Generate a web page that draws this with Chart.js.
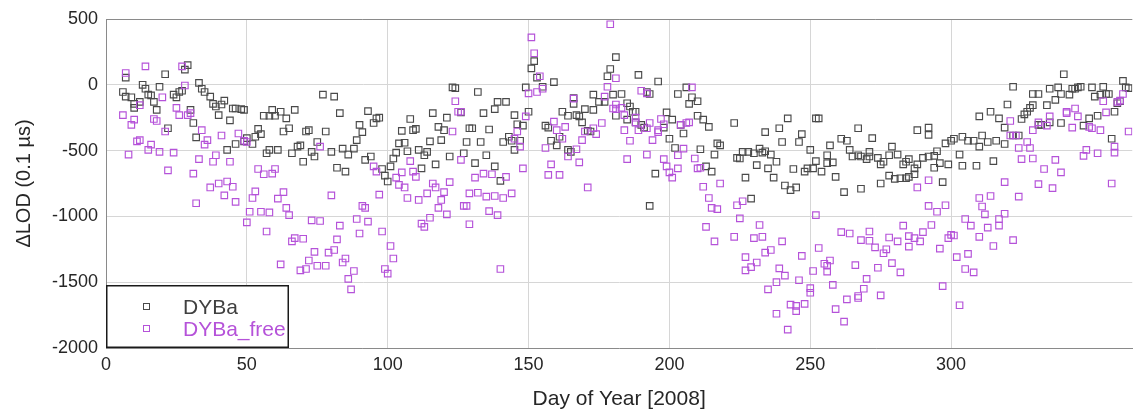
<!DOCTYPE html>
<html>
<head>
<meta charset="utf-8">
<title>LOD 2008</title>
<script src="https://cdn.jsdelivr.net/npm/chart.js@4.4.0/dist/chart.umd.min.js"></script>
<style>
  html, body { margin: 0; padding: 0; background: #fff; }
  #lodChart { display: block; }
</style>
</head>
<body>
<canvas id="lodChart" width="1138" height="415"></canvas>
<script>
// DYBa series: day of year and LOD (0.1 us)
const dybaDays = [
    6, 7, 7, 9, 10, 10, 12, 13, 14, 15,
    16, 17, 18, 19, 21, 22, 24, 25, 26, 27,
    28, 29, 30, 31, 32, 33, 34, 35, 37, 38,
    39, 40, 41, 42, 43, 44, 45, 46, 46, 48,
    49, 49, 50, 52, 53, 54, 55, 56, 57, 58,
    58, 59, 60, 61, 62, 63, 64, 65, 66, 67,
    68, 69, 70, 71, 72, 73, 74, 75, 77, 78,
    80, 81, 82, 83, 84, 85, 86, 88, 89, 90,
    91, 92, 93, 94, 95, 96, 97, 98, 99, 100,
    101, 102, 103, 104, 105, 106, 107, 108, 109, 110,
    111, 112, 113, 114, 115, 116, 117, 118, 119, 120,
    121, 122, 123, 124, 126, 127, 128, 129, 130, 131,
    132, 133, 134, 135, 136, 138, 138, 139, 140, 141,
    142, 143, 144, 145, 145, 146, 147, 148, 149, 150,
    151, 152, 153, 155, 156, 157, 158, 159, 160, 161,
    162, 164, 164, 165, 166, 166, 167, 168, 169, 170,
    171, 172, 173, 173, 175, 177, 178, 179, 180, 181,
    181, 183, 185, 185, 186, 187, 188, 188, 189, 190,
    191, 192, 193, 193, 195, 196, 198, 199, 200, 201,
    202, 203, 204, 205, 206, 207, 208, 210, 210, 211,
    212, 213, 214, 215, 216, 217, 218, 223, 224, 225,
    226, 227, 228, 229, 230, 231, 232, 233, 234, 234,
    235, 236, 237, 238, 239, 240, 241, 242, 243, 244,
    245, 246, 247, 248, 249, 250, 251, 252, 252, 253,
    254, 256, 256, 257, 258, 259, 261, 262, 263, 264,
    265, 267, 267, 268, 268, 270, 271, 271, 272, 274,
    275, 275, 276, 278, 278, 279, 280, 281, 282, 283,
    284, 284, 285, 285, 287, 287, 288, 288, 290, 292,
    292, 292, 294, 294, 295, 296, 297, 298, 299, 300,
    301, 303, 304, 304, 306, 308, 309, 310, 310, 311,
    313, 314, 315, 316, 317, 319, 319, 320, 322, 322,
    324, 325, 326, 327, 328, 329, 329, 331, 331, 332,
    334, 335, 335, 337, 338, 339, 339, 340, 342, 343,
    344, 345, 346, 347, 349, 350, 351, 352, 353, 354,
    355, 356, 357, 358, 359, 360, 361, 362, 363
];
const dybaValues = [
    -55, 55, -90, -95, -175, -145, -130, 0, -30, -75,
    -80, -130, -190, -15, 80, -330, -75, -95, -55, -45,
    115, 150, -190, -290, -400, 15, -30, -55, -90, -145,
    -165, -230, -150, -120, -495, -270, -180, -180, -450, -185,
    -190, -430, -405, -450, -395, -335, -375, -235, -520, -235,
    -495, -190, -235, -495, -205, -355, -255, -330, -520, -190,
    -470, -460, -585, -355, -345, -510, -545, -435, -75, -355,
    -510, -90, -630, -215, -485, -660, -530, -485, -420, -305,
    -360, -570, -200, -545, -290, -255, -250, -640, -690, -735,
    -620, -560, -515, -445, -350, -440, -505, -260, -345, -335,
    -495, -635, -535, -510, -430, -215, -605, -320, -420, -345,
    -250, -545, -20, -25, -210, -520, -435, -330, -330, -595,
    -55, -435, -215, -535, -340, -185, -620, -130, -730, -435,
    -130, -395, -425, -495, -230, -300, -425, -310, -20, -205,
    125, 180, 55, -15, -310, -325, -425, 20, -460, -395,
    -205, -235, -495, -510, -145, -100, -230, -240, -285, -185,
    -350, -355, -190, -75, -130, -130, 65, 120, -75, 210,
    -235, -70, -140, -265, -165, -205, -205, -285, 75, -305,
    -325, -55, -70, -920, -675, 25, -325, -210, -410, -265,
    -480, -70, -305, -370, -20, -145, -95, -235, -125, -490,
    -265, -620, -320, -660, -530, -445, -460, -290, -555, -560,
    -510, -705, -510, -865, -520, -610, -485, -515, -505, -360,
    -635, -530, -705, -585, -330, -435, -765, -255, -800, -640,
    -780, -435, -375, -660, -635, -495, -635, -580, -255, -255,
    -660, -595, -535, -460, -590, -700, -410, -815, -425, -495,
    -545, -535, -330, -790, -545, -565, -510, -545, -405, -555,
    -605, -750, -585, -535, -690, -470, -715, -530, -710, -605,
    -710, -585, -565, -700, -680, -635, -605, -345, -555, -545,
    -325, -380, -540, -630, -505, -595, -740, -445, -605, -425,
    -410, -530, -395, -615, -425, -425, -615, -470, -240, -385,
    -435, -205, -580, -425, -255, -450, -325, -150, -15, -385,
    -385, -260, -225, -205, -175, -155, -70, -70, -305, -305,
    -155, -30, -285, -115, -20, -290, -70, 80, -75, -30,
    -30, -20, -15, -310, -255, -20, -90, -235, -75, -15,
    -70, -70, -410, -205, -140, -125, 30, -20, -25
];

// DYBa_free series
const freeDays = [
    6, 7, 8, 9, 10, 11, 12, 12, 14, 15,
    16, 17, 18, 19, 20, 21, 22, 24, 25, 26,
    27, 28, 29, 30, 31, 32, 33, 34, 35, 36,
    37, 38, 39, 40, 41, 42, 43, 44, 45, 46,
    47, 49, 50, 50, 51, 52, 53, 54, 55, 56,
    57, 58, 59, 60, 61, 62, 63, 64, 65, 66,
    67, 69, 70, 71, 72, 73, 74, 75, 76, 76,
    78, 79, 80, 81, 82, 83, 84, 85, 86, 87,
    88, 89, 90, 91, 92, 93, 95, 96, 97, 98,
    99, 100, 101, 102, 103, 104, 105, 106, 107, 108,
    109, 110, 111, 112, 113, 114, 115, 116, 117, 118,
    119, 120, 121, 122, 123, 124, 125, 126, 126, 127,
    128, 129, 129, 131, 132, 134, 135, 136, 137, 138,
    139, 140, 141, 142, 144, 145, 146, 147, 148, 149,
    150, 151, 152, 153, 154, 155, 156, 157, 158, 159,
    160, 161, 162, 163, 164, 166, 167, 168, 169, 170,
    171, 173, 174, 176, 177, 178, 179, 180, 181, 181,
    181, 183, 184, 184, 185, 186, 188, 188, 189, 190,
    192, 192, 192, 193, 194, 196, 196, 197, 198, 198,
    199, 200, 201, 203, 203, 204, 205, 206, 207, 208,
    209, 210, 211, 212, 213, 214, 215, 216, 217, 218,
    223, 224, 225, 226, 227, 227, 229, 230, 231, 232,
    233, 234, 235, 236, 238, 238, 239, 240, 241, 242,
    243, 245, 245, 246, 247, 248, 250, 250, 251, 252,
    253, 255, 256, 256, 257, 258, 259, 261, 262, 263,
    264, 266, 267, 267, 268, 269, 270, 271, 271, 273,
    274, 275, 276, 277, 278, 279, 281, 282, 283, 285,
    285, 287, 288, 289, 290, 292, 292, 293, 295, 296,
    297, 298, 299, 300, 301, 302, 303, 305, 305, 306,
    307, 308, 310, 310, 311, 312, 313, 314, 315, 317,
    317, 319, 319, 321, 321, 322, 323, 324, 324, 325,
    327, 328, 329, 329, 331, 331, 333, 334, 335, 336,
    337, 339, 341, 341, 343, 344, 345, 347, 348, 349,
    350, 352, 353, 354, 355, 357, 358, 358, 359, 360,
    361, 363
];
const freeValues = [
    -230, 90, -530, -305, -265, -430, -155, -420, 140, -495,
    -455, -260, -275, -510, -95, -355, -650, -515, -175, -230,
    140, -5, -230, -215, -675, -900, -565, -345, -455, -420,
    -780, -585, -535, -750, -385, -840, -735, -585, -775, -890,
    -370, -425, -435, -1045, -965, -860, -810, -640, -965, -680,
    -1115, -970, -675, -640, -865, -1365, -815, -935, -990, -1190,
    -1165, -1410, -1170, -1400, -1335, -1030, -1270, -1375, -1035, -470,
    -1375, -1275, -840, -1255, -1175, -1070, -1350, -1320, -1475, -1555,
    -1415, -1020, -1130, -920, -935, -1040, -620, -660, -835, -1115,
    -1400, -1435, -1225, -1320, -705, -760, -665, -780, -860, -580,
    -660, -700, -875, -1055, -1080, -825, -1010, -750, -780, -935,
    -875, -815, -985, -740, -355, -125, -205, -205, -570, -920,
    -920, -825, -1060, -705, -820, -675, -850, -960, -680, -845,
    -990, -1400, -860, -700, -825, -410, -355, -470, -635, -240,
    -65, 360, 240, -55, 65, -30, -480, -685, -605, -280,
    -345, -685, -410, -320, -545, -105, -490, -590, -420, -355,
    -780, -330, -375, -290, -90, -15, 460, -180, 50, -150,
    -185, -175, -230, -345, -565, -425, -250, -285, -345, -45,
    -65, -330, -530, -290, -420, -360, -345, -260, -300, -565,
    -620, -665, -705, -635, -535, -305, -485, -290, -285, -20,
    -560, -635, -630, -775, -1080, -860, -935, -1190, -945, -750,
    -1155, -915, -1015, -885, -1310, -1410, -1385, -1165, -1350, -1065,
    -1155, -1275, -1555, -1255, -1500, -1740, -1395, -1190, -1450, -1860,
    -1670, -1720, -1680, -1485, -1300, -1665, -1545, -1580, -1415, -990,
    -1240, -1360, -1375, -1420, -1335, -1520, -1705, -1120, -1800, -1630,
    -1130, -1370, -1605, -1620, -1180, -1550, -1475, -1115, -1185, -1235,
    -1390, -1600, -1280, -1250, -1160, -1355, -1190, -1425, -1070, -1230,
    -1150, -1165, -780, -1190, -1120, -920, -725, -1065, -965, -1245,
    -1530, -915, -1165, -1140, -1145, -1310, -1675, -1400, -1020, -1285,
    -1070, -1425, -1155, -860, -925, -985, -1085, -845, -1225, -1020,
    -1070, -980, -740, -385, -275, -1180, -385, -850, -480, -565,
    -435, -480, -560, -345, -285, -755, -640, -310, -240, -785,
    -570, -665, -205, -215, -325, -180, -240, -540, -495, -320,
    -330, -520, -345, -125, -210, -750, -515, -470, -130, -120,
    -70, -355
];

const seriesNames = ['DYBa', 'DYBa_free'];
const seriesColors = ['#4a4a4a', '#b552d9'];
const xTickStep = 50;
const yTickStep = 500;

function toPoints(days, values) {
    return days.map(function (d, i) {
        return { x: d, y: values[i] };
    });
}

const fontFamily = '"Liberation Sans", Arial, Helvetica, sans-serif';
const textColor = '#262626';

// legend box drawn inside the lower-left corner of the plot
const boxLegend = {
    id: 'boxLegend',
    afterDraw(chart) {
        const ctx = chart.ctx;
        const area = chart.chartArea;
        const left = area.left;
        const bottom = area.bottom;
        const w = 183, h = 63;
        ctx.save();
        ctx.fillStyle = '#fff';
        ctx.fillRect(left, bottom - h, w, h);
        ctx.strokeStyle = '#1a1a1a';
        ctx.lineWidth = 1.5;
        ctx.strokeRect(left + 0.75, bottom - h + 0.75, w - 1.5, h - 1.5);
        ctx.font = '21px ' + fontFamily;
        ctx.textBaseline = 'middle';
        seriesNames.forEach(function (name, i) {
            const y = bottom - h + 22 + i * 22;
            ctx.strokeStyle = seriesColors[i];
            ctx.lineWidth = 1;
            ctx.strokeRect(left + 37.5, y - 3.5, 6, 6);
            ctx.fillStyle = i === 0 ? '#404040' : seriesColors[1];
            ctx.fillText(name, left + 77, y + 1);
        });
        ctx.restore();
    }
};

// frame line along the top of the plot
const topFrame = {
    id: 'topFrame',
    afterDatasetsDraw(chart) {
        const ctx = chart.ctx;
        const a = chart.chartArea;
        ctx.save();
        ctx.strokeStyle = '#8a8a8a';
        ctx.lineWidth = 1;
        ctx.beginPath();
        ctx.moveTo(a.left, a.top + 0.5);
        ctx.lineTo(a.right, a.top + 0.5);
        ctx.stroke();
        ctx.restore();
    }
};

window.onload = function () {
    const ctx = document.getElementById('lodChart');
    const myChart = new Chart(ctx, {
        type: 'scatter',
        data: {
            datasets: [{
                label: seriesNames[0],
                data: toPoints(dybaDays, dybaValues),
                borderColor: seriesColors[0],
                backgroundColor: 'rgba(0,0,0,0)',
                pointStyle: 'rect',
                pointRadius: 4.6,
                borderWidth: 1.15,
                order: 2
            }, {
                label: seriesNames[1],
                data: toPoints(freeDays, freeValues),
                borderColor: seriesColors[1],
                backgroundColor: 'rgba(0,0,0,0)',
                pointStyle: 'rect',
                pointRadius: 4.6,
                borderWidth: 1.15,
                order: 1
            }]
        },
        options: {
            responsive: false,
            animation: false,
            devicePixelRatio: 1,
            layout: { padding: { top: 19, right: 0, left: 0, bottom: 0 } },
            plugins: {
                legend: { display: false },
                tooltip: { enabled: false }
            },
            scales: {
                x: {
                    type: 'linear',
                    min: 0,
                    max: 364.3,
                    afterBuildTicks: function (scale) {
                        scale.ticks = scale.ticks.filter(function (t) { return t.value % xTickStep === 0; });
                    },
                    afterFit: function (scale) { scale.height = 67; },
                    ticks: {
                        stepSize: xTickStep,
                        padding: 6,
                        maxRotation: 0,
                        color: textColor,
                        font: { family: fontFamily, size: 18 },
                        callback: function (v) { return String(v); }
                    },
                    grid: { color: '#d6d6d6', lineWidth: 1, drawTicks: false },
                    border: { color: '#8a8a8a', width: 1 },
                    title: {
                        display: true,
                        text: 'Day of Year [2008]',
                        color: textColor,
                        font: { family: fontFamily, size: 21 },
                        padding: { top: 0, bottom: 3 }
                    }
                },
                y: {
                    min: -2000,
                    max: 500,
                    afterFit: function (scale) { scale.width = 106; },
                    ticks: {
                        stepSize: yTickStep,
                        padding: 8,
                        color: textColor,
                        font: { family: fontFamily, size: 18 },
                        callback: function (v) { return String(v); }
                    },
                    grid: { color: '#d6d6d6', lineWidth: 1, drawTicks: false },
                    border: { color: '#8a8a8a', width: 1 },
                    title: {
                        display: true,
                        text: 'ΔLOD (0.1 µs)',
                        color: textColor,
                        font: { family: fontFamily, size: 20 },
                        padding: { top: 12, bottom: 0 }
                    }
                }
            }
        },
        plugins: [topFrame, boxLegend]
    });
};
</script>
</body>
</html>
